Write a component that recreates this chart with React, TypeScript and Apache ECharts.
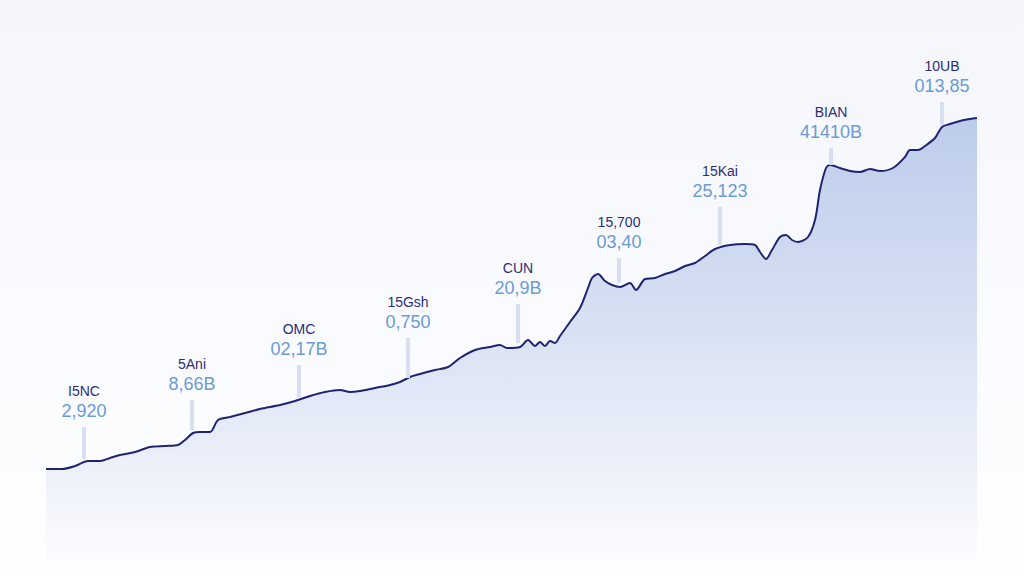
import React, { useEffect, useRef } from "react";
import * as echarts from "echarts";

// Line points: x position along the timeline, value
const xs = [0, 16, 29, 42, 54, 64, 74, 89, 104, 119, 132, 139, 147, 154, 164, 172, 184, 199, 214, 234, 249, 264, 279, 294, 304, 314, 329, 344, 354, 364, 374, 389, 402, 414, 429, 444, 454, 461, 474, 482, 489, 494, 499, 504, 509, 514, 524, 534, 542, 546, 552, 559, 566, 574, 584, 590, 599, 609, 619, 629, 639, 649, 659, 669, 684, 699, 709, 714, 720, 726, 734, 740, 746, 752, 762, 769, 774, 780, 784, 794, 804, 814, 824, 834, 847, 859, 864, 872, 879, 889, 896, 904, 914, 924, 931];
const ys = [91, 91, 94, 99, 99, 102, 105, 108, 113, 114, 115, 120, 127, 128, 128, 140, 143, 147, 151, 155, 159, 164, 168, 170, 168, 169, 172, 175, 178, 183, 186, 190, 193, 202, 210, 213, 215, 212, 213, 220, 214, 218, 214, 219, 217, 224, 238, 252, 272, 282, 286, 279, 275, 273, 277, 270, 281, 282, 286, 289, 294, 297, 304, 311, 315, 316, 315, 308, 301, 310, 323, 325, 320, 318, 323, 340, 370, 392, 395, 392, 389, 388, 391, 389, 392, 403, 410, 410, 414, 422, 433, 436, 439, 441, 442];

// Annotations
const annNames = ["I5NC", "5Ani", "OMC", "15Gsh", "CUN", "15,700", "15Kai", "BIAN", "10UB"];
const annValues = ["2,920", "8,66B", "02,17B", "0,750", "20,9B", "03,40", "25,123", "41410B", "013,85"];
const annX = [38, 146, 253, 362, 472, 573, 674, 785, 896];
const annBase = [101, 130, 163, 182, 217, 277, 315, 395, 435];
const annTop = [133, 160, 195, 222, 256, 302, 353, 412, 458];

export default function App() {
  const ref = useRef<HTMLDivElement>(null);
  useEffect(() => {
    if (!ref.current) return;
    const chart = echarts.init(ref.current, null, { renderer: "svg" });
    const lineData = xs.map((x, i) => [x, ys[i]]);
    const annData = annX.map((x, i) => [x, annBase[i], annTop[i], i]);
    chart.setOption({
      animation: false,
      backgroundColor: "transparent",
      grid: { left: 46, right: 47, top: 20, bottom: 16 },
      xAxis: { type: "value", min: 0, max: 931, show: false },
      yAxis: { type: "value", min: 0, max: 540, show: false },
      series: [
        {
          type: "line",
          data: lineData,
          symbol: "none",
          smooth: 0.3,
          lineStyle: { color: "#1f2470", width: 2 },
          areaStyle: {
            color: new echarts.graphic.LinearGradient(0, 0, 0, 1, [
              { offset: 0, color: "#a3b9e3" },
              { offset: 0.45, color: "#c8d5ef" },
              { offset: 0.8, color: "#e6ebf7" },
              { offset: 1, color: "rgba(246,248,253,0.6)" },
            ]),
          },
          z: 2,
        },
        {
          type: "custom",
          data: annData,
          encode: { x: 0, y: [1, 2] },
          z: 3,
          renderItem: (params: any, api: any) => {
            const i = api.value(3);
            const base = api.coord([api.value(0), api.value(1)]);
            const top = api.coord([api.value(0), api.value(2)]);
            return {
              type: "group",
              children: [
                {
                  type: "rect",
                  shape: { x: base[0] - 2, y: top[1], width: 4, height: base[1] - top[1] },
                  style: { fill: "#d8dff3" },
                },
                {
                  type: "text",
                  x: top[0],
                  y: top[1] - 16,
                  style: {
                    text: annValues[i],
                    fill: "#6a9bd5",
                    font: "18px 'Liberation Sans', sans-serif",
                    align: "center",
                    verticalAlign: "middle",
                  },
                },
                {
                  type: "text",
                  x: top[0],
                  y: top[1] - 36,
                  style: {
                    text: annNames[i],
                    fill: "#2b2e78",
                    font: "14px 'Liberation Sans', sans-serif",
                    align: "center",
                    verticalAlign: "middle",
                  },
                },
              ],
            };
          },
        },
      ],
    });
    return () => chart.dispose();
  }, []);
  return (
    <div
      style={{
        position: "fixed",
        left: 0,
        top: 0,
        width: 1024,
        height: 576,
        background: "linear-gradient(180deg, #f5f6fb 0%, #fafbfe 60%, #fefeff 100%)",
      }}
    >
      <div ref={ref} style={{ width: 1024, height: 576 }} />
    </div>
  );
}
